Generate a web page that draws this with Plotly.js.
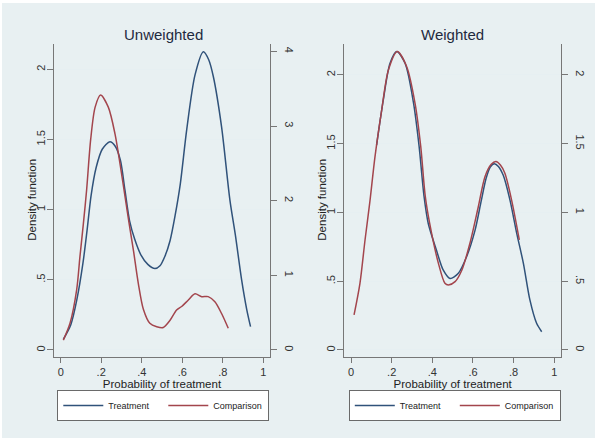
<!DOCTYPE html>
<html>
<head>
<meta charset="utf-8">
<script src="https://cdn.plot.ly/plotly-3.0.1.min.js"></script>
<style>
  html, body { margin: 0; padding: 0; background: #ffffff; }
  #chart { width: 597px; height: 440px; }
</style>
</head>
<body>
<div id="chart"></div>
<script>
// ---- Data ----
const panelTitles = ['Unweighted', 'Weighted'];
const seriesNames = ['Treatment', 'Comparison'];
const xTitle = 'Probability of treatment';
const yTitle = 'Density function';
const xTicks = [0, 0.2, 0.4, 0.6, 0.8, 1];
const xTickText = ['0', '.2', '.4', '.6', '.8', '1'];
const yTicksLeft = [0, 0.5, 1, 1.5, 2];
const yTickTextLeft = ['0', '.5', '1', '1.5', '2'];
const yTicksRightU = [0, 1, 2, 3, 4];
const yTickTextRightU = ['0', '1', '2', '3', '4'];

// Unweighted - Treatment
const xTreatU = [0.013, 0.05, 0.08, 0.11, 0.13, 0.15, 0.175, 0.205, 0.243, 0.27, 0.295, 0.317, 0.34, 0.365, 0.395, 0.43, 0.465, 0.49, 0.515, 0.54, 0.565, 0.59, 0.622, 0.663, 0.704, 0.73, 0.753, 0.794, 0.835, 0.862, 0.893, 0.918, 0.937];
const yTreatU = [0.076, 0.18, 0.36, 0.62, 0.85, 1.10, 1.30, 1.43, 1.484, 1.45, 1.35, 1.14, 0.92, 0.79, 0.68, 0.61, 0.58, 0.60, 0.67, 0.78, 0.96, 1.18, 1.57, 1.96, 2.125, 2.07, 1.95, 1.59, 1.07, 0.82, 0.50, 0.29, 0.166];
// Unweighted - Comparison
const xCompU = [0.013, 0.046, 0.079, 0.095, 0.112, 0.128, 0.148, 0.17, 0.197, 0.235, 0.268, 0.30, 0.32, 0.34, 0.36, 0.383, 0.408, 0.44, 0.474, 0.506, 0.539, 0.572, 0.597, 0.63, 0.663, 0.696, 0.728, 0.761, 0.794, 0.827];
const yCompU = [0.07, 0.19, 0.43, 0.665, 0.90, 1.14, 1.50, 1.73, 1.816, 1.73, 1.54, 1.26, 1.07, 0.88, 0.70, 0.475, 0.29, 0.19, 0.166, 0.16, 0.21, 0.285, 0.31, 0.356, 0.40, 0.38, 0.38, 0.344, 0.26, 0.155];

// Weighted - Treatment
const xTreatW = [0.126, 0.159, 0.192, 0.225, 0.266, 0.307, 0.335, 0.359, 0.38, 0.42, 0.454, 0.487, 0.528, 0.569, 0.61, 0.64, 0.665, 0.685, 0.705, 0.725, 0.749, 0.782, 0.815, 0.848, 0.88, 0.913, 0.938];
const yTreatW = [1.49, 1.82, 2.085, 2.17, 2.085, 1.80, 1.48, 1.12, 0.92, 0.727, 0.58, 0.52, 0.558, 0.68, 0.87, 1.08, 1.25, 1.33, 1.355, 1.335, 1.27, 1.09, 0.85, 0.63, 0.364, 0.194, 0.133];
// Weighted - Comparison
const xCompW = [0.015, 0.044, 0.069, 0.093, 0.118, 0.151, 0.184, 0.228, 0.274, 0.315, 0.343, 0.365, 0.387, 0.43, 0.462, 0.479, 0.512, 0.545, 0.585, 0.626, 0.659, 0.69, 0.713, 0.735, 0.757, 0.79, 0.828];
const yCompW = [0.255, 0.485, 0.80, 1.08, 1.406, 1.745, 2.036, 2.17, 2.06, 1.794, 1.48, 1.12, 0.92, 0.63, 0.485, 0.473, 0.497, 0.58, 0.776, 1.04, 1.26, 1.35, 1.37, 1.345, 1.285, 1.09, 0.80];

// ---- Styles ----
const FONT = 'Liberation Sans, Arial, sans-serif';
const BLUE = '#30527a';
const RED = '#a3454d';
const AX = '#777777';
const GRID = '#e6eff2';
const BG = '#e8f0f2';

function line(x, y, name, color, xa, ya, legend, show) {
  return {
    type: 'scatter', mode: 'lines', x: x, y: y, name: name,
    xaxis: xa, yaxis: ya, legend: legend, showlegend: show,
    line: { color: color, width: 1.5, shape: 'spline', smoothing: 0.8 },
    hoverinfo: 'x+y+name'
  };
}

const traces = [
  line(xTreatU, yTreatU, seriesNames[0], BLUE, 'x', 'y', 'legend', true),
  line(xCompU, yCompU, seriesNames[1], RED, 'x', 'y', 'legend', true),
  { type: 'scatter', mode: 'lines', x: [null], y: [null], xaxis: 'x', yaxis: 'y2', showlegend: false, hoverinfo: 'skip' },
  line(xTreatW, yTreatW, seriesNames[0], BLUE, 'x2', 'y3', 'legend2', true),
  line(xCompW, yCompW, seriesNames[1], RED, 'x2', 'y3', 'legend2', true),
  { type: 'scatter', mode: 'lines', x: [null], y: [null], xaxis: 'x2', yaxis: 'y4', showlegend: false, hoverinfo: 'skip' }
];

const W = 597, H = 440;
const yDom = [1 - 357 / H, 1 - 44 / H];

function xAxis(dom, anchor) {
  return {
    domain: dom, anchor: anchor, range: [-0.033, 1.033],
    tickvals: xTicks, ticktext: xTickText, ticks: 'outside', ticklen: 5, tickcolor: AX,
    showline: true, linecolor: AX, linewidth: 1, showgrid: false, zeroline: false,
    tickfont: { size: 11, color: '#333', family: FONT },
    title: { text: xTitle, font: { size: 11.5, color: '#222', family: FONT }, standoff: 2 }
  };
}
function yLeft(anchor, range) {
  return {
    domain: yDom, anchor: anchor, range: range,
    tickvals: yTicksLeft, ticktext: yTickTextLeft, tickangle: -90,
    ticks: 'outside', ticklen: 6, tickcolor: AX, ticklabelstandoff: -2,
    showline: true, linecolor: AX, linewidth: 1,
    showgrid: true, gridcolor: GRID, gridwidth: 1, zeroline: false,
    tickfont: { size: 11, color: '#333', family: FONT }
  };
}
function yRight(overlay, anchor, range, vals, text) {
  return {
    overlaying: overlay, side: 'right', anchor: anchor, range: range,
    tickvals: vals, ticktext: text, tickangle: 90,
    ticks: 'outside', ticklen: 6, tickcolor: AX, ticklabelstandoff: 4,
    showline: true, linecolor: AX, linewidth: 1,
    showgrid: false, zeroline: false,
    tickfont: { size: 11, color: '#333', family: FONT }
  };
}
function legendCfg(xpx) {
  return {
    orientation: 'h', x: xpx / W, xanchor: 'left', y: 1 - 390 / H, yanchor: 'top',
    bgcolor: '#ffffff', bordercolor: '#6a6a6a', borderwidth: 1,
    font: { size: 9, color: '#222', family: FONT },
    itemwidth: 40, entrywidth: 50, tracegroupgap: 0, itemclick: false, itemdoubleclick: false
  };
}
function yTitleAnn(xpx) {
  return { text: yTitle, xref: 'paper', yref: 'paper', x: xpx / W, y: 1 - 200 / H,
    xanchor: 'center', yanchor: 'middle', textangle: -90, showarrow: false,
    font: { size: 11.5, color: '#222', family: FONT } };
}

const layout = {
  width: W, height: H,
  margin: { l: 0, r: 0, t: 0, b: 0, pad: 0 },
  paper_bgcolor: '#ffffff', plot_bgcolor: '#ffffff',
  font: { family: FONT, color: '#222' },
  xaxis: xAxis([54 / W, 270 / W], 'y'),
  yaxis: yLeft('x', [-0.05, 2.18]),
  yaxis2: yRight('y', 'x', [-0.094, 4.10], yTicksRightU, yTickTextRightU),
  xaxis2: xAxis([344.3 / W, 561 / W], 'y3'),
  yaxis3: yLeft('x2', [-0.051, 2.225]),
  yaxis4: yRight('y3', 'x2', [-0.051, 2.225], yTicksLeft, yTickTextLeft),
  legend: legendCfg(57.3),
  legend2: legendCfg(348.8),
  shapes: [
    { type: 'rect', xref: 'paper', yref: 'paper', x0: 2 / W, x1: 1 - 2 / W, y0: 2 / H, y1: 1 - 3 / H,
      fillcolor: BG, line: { width: 0 }, layer: 'below' }
  ],
  annotations: [
    { text: panelTitles[0], xref: 'paper', yref: 'paper', x: 163 / W, y: 1 - 34 / H, xanchor: 'center', yanchor: 'middle',
      showarrow: false, font: { size: 15, color: '#1f2a40', family: FONT } },
    { text: panelTitles[1], xref: 'paper', yref: 'paper', x: 452.8 / W, y: 1 - 34 / H, xanchor: 'center', yanchor: 'middle',
      showarrow: false, font: { size: 15, color: '#1f2a40', family: FONT } },
    yTitleAnn(31.7),
    yTitleAnn(321.7)
  ],
  showlegend: true,
  hovermode: 'closest'
};

Plotly.newPlot('chart', traces, layout, { displayModeBar: false });
</script>
</body>
</html>
